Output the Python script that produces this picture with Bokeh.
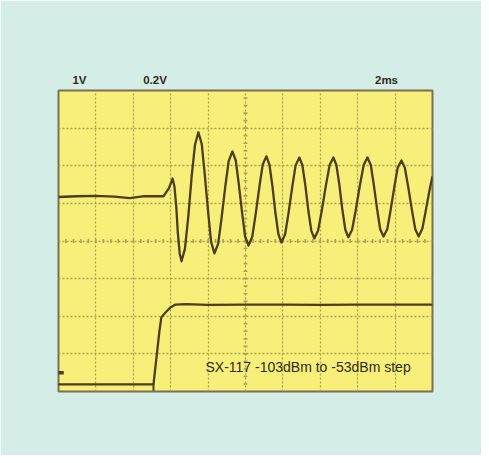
import numpy as np
from bokeh.plotting import figure
from bokeh.models import Range1d, Label, FixedTicker, LinearAxis
from bokeh.embed import file_html
from bokeh.resources import INLINE

# Channel / timebase labels and their horizontal positions (divisions)
scale_labels = ["1V", "0.2V", "2ms"]
scale_label_x = [0.56, 2.58, 8.77]
caption = "SX-117 -103dBm to -53dBm step"

# Upper trace (audio output), in screen divisions
ch1_x = [0.0, 0.5, 1.0, 1.5, 1.9, 2.3, 2.6, 2.81, 2.95,
         3.05, 3.10, 3.15, 3.19, 3.24, 3.29,
         3.38, 3.47, 3.56, 3.65, 3.74,
         3.83, 3.91, 4.00, 4.08, 4.17,
         4.27, 4.36, 4.46, 4.55, 4.65,
         4.74, 4.82, 4.91, 4.99, 5.08,
         5.18, 5.27, 5.37, 5.46, 5.56,
         5.64, 5.72, 5.80, 5.88, 5.96,
         6.06, 6.15, 6.25, 6.34, 6.44,
         6.52, 6.60, 6.68, 6.76, 6.84,
         6.94, 7.04, 7.15, 7.25, 7.35,
         7.43, 7.51, 7.59, 7.67, 7.75,
         7.85, 7.95, 8.06, 8.16, 8.26,
         8.35, 8.43, 8.52, 8.60, 8.69,
         8.79, 8.88, 8.98, 9.07, 9.17,
         9.26, 9.35, 9.45, 9.54, 9.63,
         9.73, 9.83, 9.92, 10.0]
ch1_y = [5.17, 5.19, 5.20, 5.18, 5.14, 5.19, 5.19, 5.19, 5.40,
         5.66, 5.45, 4.90, 4.22, 3.67, 3.46,
         3.79, 4.64, 5.71, 6.56, 6.89,
         6.58, 5.78, 4.78, 3.98, 3.67,
         3.93, 4.61, 5.45, 6.12, 6.38,
         6.14, 5.52, 4.74, 4.12, 3.88,
         4.11, 4.70, 5.43, 6.03, 6.25,
         6.03, 5.46, 4.75, 4.18, 3.96,
         4.18, 4.74, 5.44, 6.01, 6.22,
         6.02, 5.48, 4.81, 4.27, 4.07,
         4.27, 4.81, 5.48, 6.02, 6.22,
         6.02, 5.49, 4.83, 4.30, 4.10,
         4.30, 4.83, 5.49, 6.02, 6.22,
         6.02, 5.50, 4.84, 4.32, 4.12,
         4.31, 4.82, 5.44, 5.95, 6.14,
         5.95, 5.44, 4.82, 4.31, 4.12,
         4.33, 4.86, 5.35, 5.72]

# Lower trace (RF step), in screen divisions
ch2_x = [-0.1, 1.0, 2.0, 2.54, 2.59, 2.65, 2.70, 2.75, 2.86, 2.99, 3.13,
         3.40, 4.0, 5.0, 6.0, 7.0, 8.0, 9.0, 10.0]
ch2_y = [0.19, 0.19, 0.19, 0.19, 0.64, 1.17, 1.62, 1.97, 2.10, 2.23, 2.31,
         2.32, 2.30, 2.31, 2.31, 2.30, 2.31, 2.31, 2.31]
retrace_x = [2.54, 2.54]
retrace_y = [0.19, 0.02]
ground_x = [-0.1, 0.14]
ground_y = [0.5, 0.5]

N_XDIV, N_YDIV = 10, 8

trace_col = "#4a3e1c"
grid_col = "#ad9f55"
text_col = "#2f2a18"

p = figure(width=481, height=455, output_backend="svg", toolbar_location=None,
           x_range=Range1d(0, N_XDIV), y_range=Range1d(0, N_YDIV),
           x_axis_location=None, y_axis_location=None,
           min_border_left=58, min_border_right=49,
           min_border_top=90, min_border_bottom=64)
p.border_fill_color = "#d4ede7"
p.background_fill_color = "#f7ef79"
p.outline_line_color = "#7a7154"
p.outline_line_width = 2

p.xgrid.ticker = FixedTicker(ticks=list(range(1, N_XDIV)))
p.ygrid.ticker = FixedTicker(ticks=list(range(1, N_YDIV)))
for g in (p.xgrid, p.ygrid):
    g.grid_line_color = grid_col
    g.grid_line_width = 1.3
    g.grid_line_dash = "2 2"

# centre graticule ticks
tx = np.arange(0.2, N_XDIV, 0.2)
p.segment(x0=tx, y0=N_YDIV / 2 - 0.05, x1=tx, y1=N_YDIV / 2 + 0.05,
          line_color=grid_col, line_width=1.6)
ty = np.arange(0.2, N_YDIV, 0.2)
p.segment(x0=N_XDIV / 2 - 0.05, y0=ty, x1=N_XDIV / 2 + 0.05, y1=ty,
          line_color=grid_col, line_width=1.6)

p.line(ch1_x, ch1_y, line_color=trace_col, line_width=2.3, line_join="round")
p.line(ch2_x, ch2_y, line_color=trace_col, line_width=2.3, line_join="round")
p.line(retrace_x, retrace_y, line_color=trace_col, line_width=2)
p.line(ground_x, ground_y, line_color=trace_col, line_width=3.5)

# scale labels above the graticule
top_axis = LinearAxis(ticker=FixedTicker(ticks=scale_label_x),
                      major_label_overrides=dict(zip(scale_label_x, scale_labels)),
                      axis_line_color=None, major_tick_line_color=None,
                      minor_tick_line_color=None, major_tick_in=0, major_tick_out=0,
                      major_label_standoff=5,
                      major_label_text_font="Liberation Sans",
                      major_label_text_font_style="bold",
                      major_label_text_font_size="11.5px",
                      major_label_text_color=text_col)
p.add_layout(top_axis, "above")

p.add_layout(Label(x=3.93, y=0.66, text=caption, text_font="Liberation Sans",
                   text_font_size="14px", text_color=text_col,
                   text_baseline="middle"))

open("out.html", "w").write(file_html(p, INLINE))
